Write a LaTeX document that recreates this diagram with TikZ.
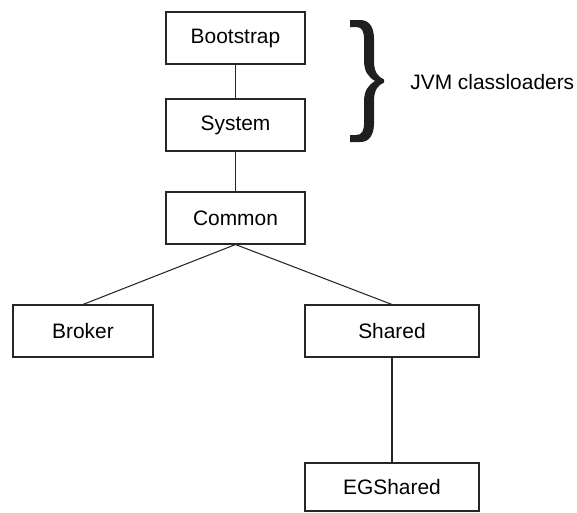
\documentclass[tikz,border=0pt]{standalone}
\usepackage{fontspec}
\setmainfont{Liberation Sans}

\tikzset{
  loader/.style={draw=black!85,line width=0.6pt,minimum width=2.78cm,
    minimum height=1.04cm,inner sep=0pt,font=\fontsize{11.9}{14}\selectfont},
  link/.style={draw=black!85,line width=0.6pt}
}

\begin{document}
\begin{tikzpicture}
  \useasboundingbox (0,0) rectangle (11.54,-10.24);
  \node[loader] (boot) at (4.71,-0.76) {Bootstrap};
  \node[loader] (sys) at (4.71,-2.50) {System};
  \node[loader] (common) at (4.71,-4.36) {Common};
  \node[loader,minimum width=2.80cm] (broker) at (1.66,-6.62) {Broker};
  \node[loader,minimum width=3.48cm] (shared) at (7.84,-6.62) {Shared};
  \node[loader,minimum width=3.48cm,minimum height=0.96cm] (egshared) at (7.84,-9.74) {EGShared};
  \draw[link] (boot.south) -- (sys.north);
  \draw[link] (sys.south) -- (common.north);
  \draw[link] (common.south) -- (broker.north);
  \draw[link] (common.south) -- (shared.north);
  \draw[link] (shared.south) -- (egshared.north);
  % brace round the two JVM loaders, drawn in pixel units
  \begin{scope}[x=0.02cm,y=-0.02cm]
    \fill[black!88] (350,20) -- (360,20) .. controls (370,20) and (374,28) .. (374,40)
      -- (374,62) .. controls (374,72) and (378,77) .. (384,79.5)
      -- (384,82.5) .. controls (378,85) and (374,90) .. (374,100)
      -- (374,122) .. controls (374,134) and (370,142) .. (360,142)
      -- (350,142) -- (350,135) -- (356,135) .. controls (362,135) and (364,131) .. (364,122)
      -- (364,101) .. controls (364,91) and (368,85) .. (375,81)
      .. controls (368,77) and (364,71) .. (364,61)
      -- (364,40) .. controls (364,31) and (362,27) .. (356,27) -- (350,27) -- cycle;
  \end{scope}
  \node[anchor=west,inner sep=0pt,font=\fontsize{11.9}{14}\selectfont]
    (jvm) at (8.20,-1.64) {JVM classloaders};
\end{tikzpicture}
\end{document}
